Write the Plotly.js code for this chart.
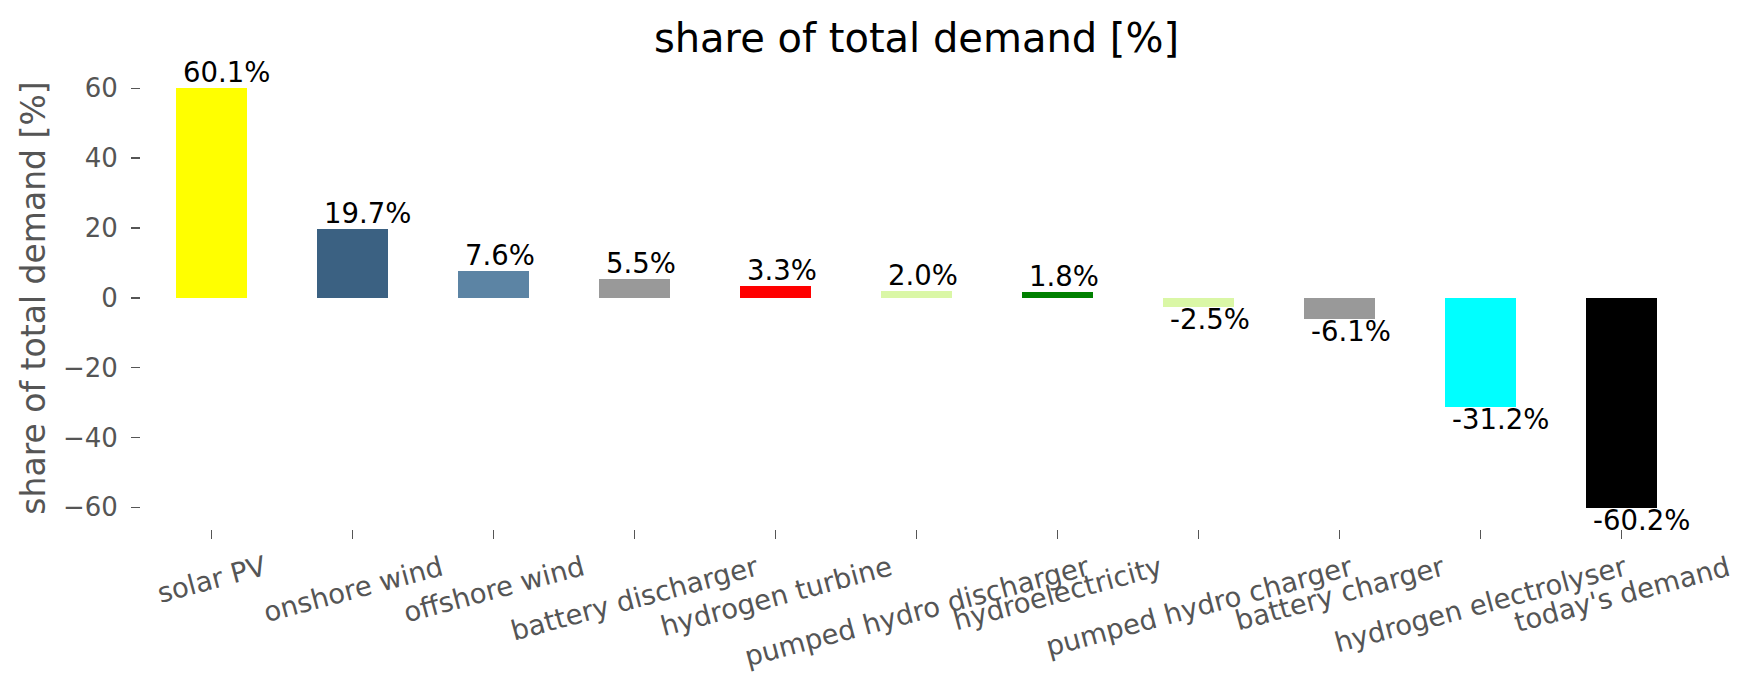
<!DOCTYPE html>
<html>
<head>
<meta charset="utf-8">
<script src="https://cdn.plot.ly/plotly-3.0.1.min.js"></script>
<style>html,body{margin:0;padding:0;background:#fff;}#chart{width:1753px;height:689px;}</style>
</head>
<body>
<div id="chart"></div>
<script>
const categories = ["solar PV", "onshore wind", "offshore wind", "battery discharger", "hydrogen turbine", "pumped hydro discharger", "hydroelectricity", "pumped hydro charger", "battery charger", "hydrogen electrolyser", "today's demand"];
const values = [60.1, 19.7, 7.6, 5.5, 3.3, 2.0, 1.8, -2.5, -6.1, -31.2, -60.2];
const barColors = ["#ffff00", "#3b6182", "#5c84a4", "#999999", "#ff0000", "#daf7a6", "#008000", "#daf7a6", "#999999", "#00ffff", "#000000"];
const yTickVals = [-60, -40, -20, 0, 20, 40, 60];
const yTickText = ["\u221260", "\u221240", "\u221220", "0", "20", "40", "60"];

const xIdx = categories.map((c, i) => i);
const FONT = "DejaVu Sans, Liberation Sans, sans-serif";

const trace = {
  type: "bar",
  x: xIdx,
  y: values,
  width: 0.5,
  marker: {color: barColors, line: {width: 0}},
  hoverinfo: "skip"
};

const annotations = [];
values.forEach((v, i) => {
  annotations.push({
    x: i - 0.25, y: v, xref: "x", yref: "y",
    text: v.toFixed(1) + "%",
    showarrow: false,
    xanchor: "left",
    yanchor: v >= 0 ? "bottom" : "top",
    xshift: 5,
    yshift: v >= 0 ? -2 : 6,
    font: {family: FONT, size: 27.5, color: "#000000"}
  });
});
categories.forEach((c, i) => {
  annotations.push({
    x: i, y: 0, xref: "x", yref: "paper",
    text: c,
    showarrow: false,
    textangle: -15,
    xanchor: "center",
    yanchor: "top",
    yshift: -18,
    font: {family: FONT, size: 27.5, color: "#555555"}
  });
});

const layout = {
  width: 1753, height: 689,
  margin: {l: 141, r: 61, t: 67, b: 160, pad: 0},
  paper_bgcolor: "#ffffff",
  plot_bgcolor: "#ffffff",
  showlegend: false,
  bargap: 0,
  title: {
    text: "share of total demand [%]",
    font: {family: FONT, size: 40, color: "#000000"},
    x: 0.5, xref: "paper", xanchor: "center",
    y: 1 - 38 / 689, yref: "container", yanchor: "middle"
  },
  xaxis: {
    range: [-0.5, 10.5],
    tickvals: xIdx,
    showticklabels: false,
    ticks: "outside", ticklen: 9, tickwidth: 1.5, tickcolor: "#555555",
    showgrid: false, zeroline: false, showline: false,
    fixedrange: true
  },
  yaxis: {
    range: [-66.215, 66.115],
    tickvals: yTickVals,
    ticktext: yTickText,
    ticks: "outside", ticklen: 9, tickwidth: 1.5, tickcolor: "#555555",
    ticklabelstandoff: 8,
    tickfont: {family: FONT, size: 26, color: "#555555"},
    showgrid: false, zeroline: false, showline: false,
    title: {text: "share of total demand [%]", font: {family: FONT, size: 33, color: "#555555"}, standoff: 7},
    automargin: false,
    fixedrange: true
  },
  annotations: annotations
};

Plotly.newPlot("chart", [trace], layout, {displayModeBar: false, staticPlot: true});
</script>
</body>
</html>
